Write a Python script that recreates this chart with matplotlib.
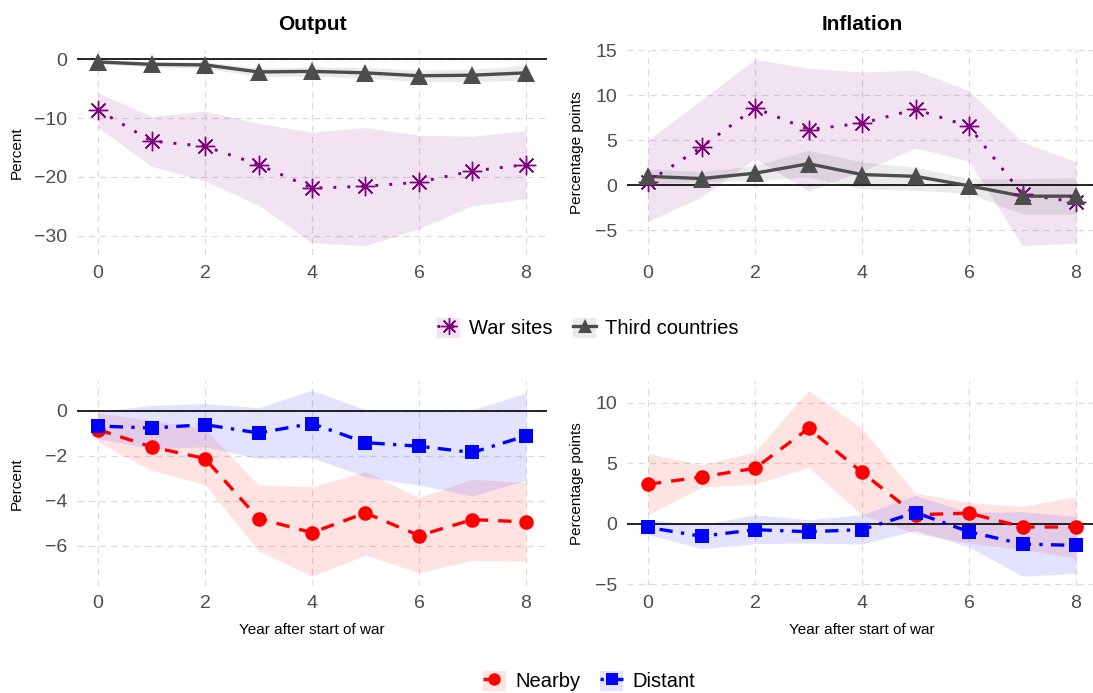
import matplotlib
matplotlib.use("Agg")
import matplotlib.pyplot as plt
from matplotlib.patches import Patch
from matplotlib.lines import Line2D
from matplotlib.legend_handler import HandlerTuple

plt.rcParams['font.family'] = ['Liberation Sans', 'DejaVu Sans']

years = [0, 1, 2, 3, 4, 5, 6, 7, 8]
x_ticks = [0, 2, 4, 6, 8]

# Output: war sites vs third countries
out_war = [-8.6, -13.9, -14.8, -17.9, -21.9, -21.6, -20.9, -19.0, -17.9]
out_war_lo = [-11.6, -18.2, -20.7, -24.8, -31.2, -31.7, -28.8, -24.9, -23.7]
out_war_hi = [-5.7, -9.7, -8.8, -10.9, -12.4, -11.6, -12.9, -13.1, -12.1]
out_third = [-0.45, -0.85, -0.95, -2.15, -2.05, -2.3, -2.8, -2.7, -2.3]
out_third_lo = [-0.8, -1.3, -1.5, -2.9, -2.9, -3.2, -3.8, -3.8, -3.5]
out_third_hi = [-0.1, -0.4, -0.4, -1.5, -1.3, -1.4, -1.8, -1.7, -1.0]

# Inflation: war sites vs third countries
inf_war = [0.4, 4.25, 8.6, 6.2, 6.9, 8.45, 6.55, -1.0, -1.85]
inf_war_lo = [-4.0, -1.3, 3.0, -0.6, 1.6, 4.15, 2.7, -6.7, -6.4]
inf_war_hi = [5.0, 9.5, 14.0, 13.0, 12.6, 12.8, 10.5, 4.8, 2.6]
inf_third = [1.0, 0.75, 1.35, 2.4, 1.2, 1.0, -0.05, -1.2, -1.2]
inf_third_lo = [0.2, 0.4, 0.55, 0.9, -0.4, -0.55, -0.9, -3.2, -3.2]
inf_third_hi = [1.85, 1.5, 2.2, 3.9, 2.6, 2.0, 0.75, 0.75, 0.85]

# Output: nearby vs distant
out_near = [-0.83, -1.6, -2.12, -4.79, -5.42, -4.54, -5.55, -4.84, -4.94]
out_near_lo = [-1.38, -2.64, -3.28, -6.23, -7.36, -6.42, -7.2, -6.65, -6.68]
out_near_hi = [-0.1, -0.42, -0.8, -3.3, -3.38, -2.7, -3.86, -3.04, -3.19]
out_dist = [-0.67, -0.76, -0.61, -0.98, -0.56, -1.41, -1.57, -1.85, -1.11]
out_dist_lo = [-1.23, -1.68, -1.6, -2.12, -2.08, -2.94, -3.3, -3.78, -3.09]
out_dist_hi = [-0.02, 0.25, 0.33, 0.15, 0.92, 0.06, 0.0, 0.05, 0.8]

# Inflation: nearby vs distant
inf_near = [3.27, 3.87, 4.59, 7.88, 4.26, 0.74, 0.88, -0.27, -0.27]
inf_near_lo = [0.74, 3.02, 3.27, 4.67, 0.74, -0.8, -1.6, -2.14, -2.83]
inf_near_hi = [5.82, 4.86, 5.96, 11.04, 7.88, 2.53, 1.76, 1.43, 2.25]
inf_dist = [-0.3, -1.04, -0.49, -0.66, -0.49, 0.93, -0.66, -1.68, -1.79]
inf_dist_lo = [-0.9, -2.06, -1.65, -1.59, -1.68, -0.55, -1.92, -4.34, -4.12]
inf_dist_hi = [0.33, -0.08, 0.74, 0.33, 0.74, 2.34, 0.93, 1.0, 0.6]

yt_out_top = [0, -10, -20, -30]
yt_inf_top = [-5, 0, 5, 10, 15]
yt_out_bot = [0, -2, -4, -6]
yt_inf_bot = [-5, 0, 5, 10]

W, H = 1093, 693
fig = plt.figure(figsize=(W / 100, H / 100), dpi=100)
fig.patch.set_facecolor('white')

GRID = '#DCDCDC'
TICKC = '#4D4D4D'

styles = {
    'war': dict(color='#800080', ls=(0, (1, 3.8)), lw=2.1, marker=(8, 2, 0), ms=14, mew=1.0,
                fill='#800080', alpha=0.11),
    'third': dict(color='#4D4D4D', ls='-', lw=2.4, marker='^', ms=12.5, mew=0,
                  fill='#4D4D4D', alpha=0.11),
    'near': dict(color='#FF0000', ls=(0, (4, 3)), lw=2.4, marker='o', ms=10.5, mew=0,
                 fill='#FF0000', alpha=0.11),
    'dist': dict(color='#0000FF', ls=(0, (1, 2.5, 4, 2.5)), lw=2.4, marker='s', ms=9.5, mew=0,
                 fill='#0000FF', alpha=0.11),
}


def make_ax(left_px, top_px, bottom_px, width_px=470.8):
    return fig.add_axes([left_px / W, (H - bottom_px) / H, width_px / W, (bottom_px - top_px) / H])


def expand(lo, hi, f=0.05):
    r = hi - lo
    return lo - f * r, hi + f * r


def panel(ax, series, yticks, ylabel, xlabel=None, title=None):
    lows = [0.0]
    highs = [0.0]
    for key, y, lo, hi in series:
        st = styles[key]
        ax.fill_between(years, lo, hi, color=st['fill'], alpha=st['alpha'], lw=0, zorder=1)
        lows += list(lo)
        highs += list(hi)
    ax.axhline(0, color='black', lw=1.2, zorder=1.5)
    for key, y, lo, hi in series:
        st = styles[key]
        ax.plot(years, y, color=st['color'], ls=st['ls'], lw=st['lw'], zorder=2,
                solid_capstyle='butt', dash_capstyle='butt')
        ax.plot(years, y, ls='none', marker=st['marker'], ms=st['ms'], color=st['color'],
                mew=st['mew'], mec=st['color'], zorder=3)
    ax.set_xlim(-0.4, 8.4)
    ax.set_ylim(*expand(min(lows), max(highs)))
    ax.set_xticks(x_ticks)
    ax.set_yticks(yticks)
    ax.set_yticklabels([str(v).replace('-', '\u2212') for v in yticks])
    ax.grid(True, color=GRID, lw=0.9, ls=(0, (5, 4)), zorder=0)
    ax.set_axisbelow(True)
    for s in ax.spines.values():
        s.set_visible(False)
    ax.tick_params(length=0, labelsize=14, colors=TICKC, pad=7)
    ax.set_ylabel(ylabel, fontsize=11, color='black')
    ax.yaxis.label.set_va('center')
    if xlabel:
        ax.set_xlabel(xlabel, fontsize=11, color='black')
        ax.xaxis.label.set_va('center')
    if title:
        ax.text(0.5, 1 + 25 / 205, title, transform=ax.transAxes, ha='center', va='center',
                fontsize=15, fontweight='bold')


ax1 = make_ax(76.6, 50, 255)
ax2 = make_ax(626.6, 50, 255)
ax3 = make_ax(76.6, 381, 585.5)
ax4 = make_ax(626.6, 381, 585.5)

panel(ax1, [('war', out_war, out_war_lo, out_war_hi),
            ('third', out_third, out_third_lo, out_third_hi)],
      yt_out_top, 'Percent', title='Output')
panel(ax2, [('war', inf_war, inf_war_lo, inf_war_hi),
            ('third', inf_third, inf_third_lo, inf_third_hi)],
      yt_inf_top, 'Percentage points', title='Inflation')
panel(ax3, [('near', out_near, out_near_lo, out_near_hi),
            ('dist', out_dist, out_dist_lo, out_dist_hi)],
      yt_out_bot, 'Percent', xlabel='Year after start of war')
panel(ax4, [('near', inf_near, inf_near_lo, inf_near_hi),
            ('dist', inf_dist, inf_dist_lo, inf_dist_hi)],
      yt_inf_bot, 'Percentage points', xlabel='Year after start of war')

for ax in (ax1, ax3):
    ax.yaxis.set_label_coords((17 - 76.6) / 470.8, 0.5)
for ax in (ax2, ax4):
    ax.yaxis.set_label_coords((577 - 626.6) / 470.8, 0.5)
for ax in (ax3, ax4):
    ax.xaxis.set_label_coords(0.5, -(630 - 585.5) / 204.5)


def handle(key):
    st = styles[key]
    p = Patch(facecolor=st['fill'], alpha=st['alpha'], lw=0)
    ln = Line2D([], [], color=st['color'], ls=st['ls'], lw=st['lw'], marker=st['marker'],
                ms=st['ms'] * 0.85, mew=st['mew'], mec=st['color'])
    return (p, ln)


leg_kw = dict(ncol=2, frameon=False, fontsize=14.5, handlelength=1.15, handleheight=1.15,
              handletextpad=0.45, columnspacing=1.0, borderaxespad=0,
              handler_map={tuple: HandlerTuple(ndivide=1, pad=0)}, loc='center')
fig.legend([handle('war'), handle('third')], ['War sites', 'Third countries'],
           bbox_to_anchor=(588 / W, 1 - 328 / H), **leg_kw)
fig.legend([handle('near'), handle('dist')], ['Nearby', 'Distant'],
           bbox_to_anchor=(589 / W, 1 - 681 / H), **leg_kw)

fig.savefig('out.png', dpi=100, facecolor='white')
